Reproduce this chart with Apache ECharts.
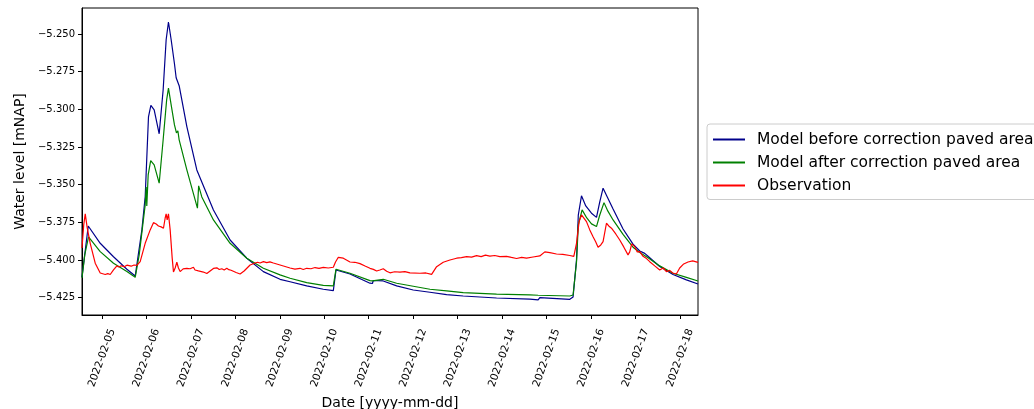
<!DOCTYPE html>
<html>
<head>
<meta charset="utf-8">
<script src="https://cdn.jsdelivr.net/npm/echarts@6/dist/echarts.min.js"></script>
<style>
html,body{margin:0;padding:0;background:#fff;}
#chart{width:1034px;height:409px;}
</style>
</head>
<body>
<div id="chart"></div>
<script>
// ---- tick labels ----
const dayTicks = ['2022-02-05','2022-02-06','2022-02-07','2022-02-08','2022-02-09','2022-02-10','2022-02-11',
  '2022-02-12','2022-02-13','2022-02-14','2022-02-15','2022-02-16','2022-02-17','2022-02-18'];
const yTicks = [-5.425, -5.400, -5.375, -5.350, -5.325, -5.300, -5.275, -5.250];
const xRange = ['2022-02-04 13:15', '2022-02-18 09:42'];
const yRange = [-5.4365, -5.2327];

// ---- series names ----
const seriesNames = ['Model before correction paved area', 'Model after correction paved area', 'Observation'];

// ---- Model before correction paved area ----
const beforeData = [
 ['2022-02-04 13:15',-5.4113],['2022-02-04 16:37',-5.3774],['2022-02-04 23:05',-5.3889],['2022-02-05 06:15',-5.3978],
 ['2022-02-05 13:29',-5.4061],['2022-02-05 17:58',-5.4106],['2022-02-05 21:34',-5.3800],['2022-02-05 23:21',-5.3581],
 ['2022-02-06 01:08',-5.3049],['2022-02-06 02:25',-5.2974],['2022-02-06 04:12',-5.3003],['2022-02-06 06:54',-5.3162],
 ['2022-02-06 09:03',-5.2870],['2022-02-06 10:40',-5.2538],['2022-02-06 11:55',-5.2420],['2022-02-06 13:22',-5.2538],
 ['2022-02-06 15:09',-5.2697],['2022-02-06 16:04',-5.2790],['2022-02-06 16:59',-5.2784],['2022-02-06 17:41',-5.2843],
 ['2022-02-06 21:50',-5.3114],['2022-02-07 03:13',-5.3402],['2022-02-07 12:11',-5.3668],['2022-02-07 21:11',-5.3867],
 ['2022-02-08 06:11',-5.3988],['2022-02-08 15:08',-5.4077],['2022-02-09 00:08',-5.4128],['2022-02-09 05:32',-5.4144],
 ['2022-02-09 14:32',-5.4172],['2022-02-09 23:29',-5.4194],['2022-02-10 04:53',-5.4203],['2022-02-10 05:32',-5.4192],
 ['2022-02-10 06:20',-5.4066],['2022-02-10 13:53',-5.4093],['2022-02-11 00:40',-5.4154],['2022-02-11 02:00',-5.4156],
 ['2022-02-11 02:27',-5.4136],['2022-02-11 07:50',-5.4139],['2022-02-11 15:04',-5.4172],['2022-02-12 00:01',-5.4199],
 ['2022-02-12 09:01',-5.4214],['2022-02-12 18:02',-5.4230],['2022-02-13 02:59',-5.4239],['2022-02-13 20:59',-5.4252],
 ['2022-02-14 14:56',-5.4259],['2022-02-14 19:25',-5.4265],['2022-02-14 20:20',-5.4250],['2022-02-15 12:31',-5.4261],
 ['2022-02-15 14:17',-5.4245],['2022-02-15 16:08',-5.3999],['2022-02-15 17:06',-5.3701],['2022-02-15 18:49',-5.3574],
 ['2022-02-15 21:08',-5.3641],['2022-02-16 00:13',-5.3689],['2022-02-16 02:55',-5.3717],['2022-02-16 04:41',-5.3614],
 ['2022-02-16 06:28',-5.3523],['2022-02-16 09:00',-5.3588],['2022-02-16 11:52',-5.3661],['2022-02-16 17:15',-5.3794],
 ['2022-02-16 22:38',-5.3895],['2022-02-17 02:16',-5.3940],['2022-02-17 04:57',-5.3956],['2022-02-17 06:34',-5.3973],
 ['2022-02-17 13:02',-5.4043],['2022-02-17 20:13',-5.4096],['2022-02-18 03:26',-5.4132],['2022-02-18 09:42',-5.4159]
];

// ---- Model after correction paved area ----
const afterData = [
 ['2022-02-04 13:15',-5.4119],['2022-02-04 14:44',-5.3966],['2022-02-04 16:46',-5.3847],['2022-02-04 23:05',-5.3944],
 ['2022-02-05 06:15',-5.4021],['2022-02-05 13:29',-5.4077],['2022-02-05 17:58',-5.4115],['2022-02-05 20:07',-5.3966],
 ['2022-02-05 21:44',-5.3800],['2022-02-05 23:21',-5.3634],['2022-02-05 23:53',-5.3515],['2022-02-06 00:13',-5.3641],
 ['2022-02-06 00:58',-5.3435],['2022-02-06 02:19',-5.3340],['2022-02-06 04:12',-5.3368],['2022-02-06 06:54',-5.3490],
 ['2022-02-06 09:03',-5.3202],['2022-02-06 10:56',-5.2937],['2022-02-06 11:55',-5.2859],['2022-02-06 13:22',-5.2970],
 ['2022-02-06 15:09',-5.3103],['2022-02-06 16:14',-5.3156],['2022-02-06 16:59',-5.3142],['2022-02-06 17:41',-5.3202],
 ['2022-02-06 21:50',-5.3402],['2022-02-07 03:33',-5.3656],['2022-02-07 04:12',-5.3508],['2022-02-07 05:55',-5.3581],
 ['2022-02-07 12:11',-5.3734],['2022-02-07 21:11',-5.3889],['2022-02-08 06:11',-5.3988],['2022-02-08 15:08',-5.4055],
 ['2022-02-09 00:08',-5.4099],['2022-02-09 05:32',-5.4121],['2022-02-09 14:32',-5.4150],['2022-02-09 23:29',-5.4168],
 ['2022-02-10 04:53',-5.4172],['2022-02-10 05:32',-5.4162],['2022-02-10 06:20',-5.4061],['2022-02-10 13:53',-5.4088],
 ['2022-02-11 00:40',-5.4137],['2022-02-11 02:00',-5.4139],['2022-02-11 02:27',-5.4126],['2022-02-11 07:50',-5.4128],
 ['2022-02-11 15:04',-5.4154],['2022-02-12 00:01',-5.4174],['2022-02-12 09:01',-5.4194],['2022-02-12 18:02',-5.4205],
 ['2022-02-13 02:59',-5.4217],['2022-02-13 20:59',-5.4227],['2022-02-14 14:56',-5.4232],['2022-02-14 19:25',-5.4234],
 ['2022-02-14 20:20',-5.4221],['2022-02-15 12:31',-5.4239],['2022-02-15 14:17',-5.4232],['2022-02-15 16:08',-5.4013],
 ['2022-02-15 17:06',-5.3767],['2022-02-15 19:09',-5.3667],['2022-02-15 21:41',-5.3721],['2022-02-16 00:13',-5.3760],
 ['2022-02-16 02:55',-5.3778],['2022-02-16 04:41',-5.3701],['2022-02-16 06:58',-5.3619],['2022-02-16 09:00',-5.3674],
 ['2022-02-16 11:52',-5.3734],['2022-02-16 17:15',-5.3830],['2022-02-16 22:38',-5.3915],['2022-02-17 02:16',-5.3950],
 ['2022-02-17 06:34',-5.3983],['2022-02-17 13:02',-5.4039],['2022-02-17 20:13',-5.4088],['2022-02-18 03:26',-5.4115],
 ['2022-02-18 09:42',-5.4139]
];

// ---- Observation ----
const observationData = [
 ['2022-02-04 13:15',-5.3920],['2022-02-04 14:11',-5.3767],['2022-02-04 15:00',-5.3694],['2022-02-04 16:04',-5.3787],
 ['2022-02-04 17:41',-5.3889],['2022-02-04 20:23',-5.4021],['2022-02-04 23:05',-5.4086],['2022-02-05 01:47',-5.4096],
 ['2022-02-05 03:10',-5.4090],['2022-02-05 04:29',-5.4096],['2022-02-05 06:15',-5.4066],['2022-02-05 08:05',-5.4039],
 ['2022-02-05 09:10',-5.4046],['2022-02-05 10:25',-5.4038],['2022-02-05 12:00',-5.4045],['2022-02-05 13:29',-5.4034],
 ['2022-02-05 15:48',-5.4041],['2022-02-05 17:20',-5.4033],['2022-02-05 18:52',-5.4036],['2022-02-05 20:39',-5.4011],
 ['2022-02-05 23:21',-5.3889],['2022-02-06 02:03',-5.3800],['2022-02-06 03:49',-5.3752],['2022-02-06 05:17',-5.3761],
 ['2022-02-06 06:31',-5.3774],['2022-02-06 07:59',-5.3780],['2022-02-06 09:13',-5.3789],['2022-02-06 10:08',-5.3721],
 ['2022-02-06 10:40',-5.3694],['2022-02-06 11:13',-5.3734],['2022-02-06 11:55',-5.3694],['2022-02-06 12:50',-5.3800],
 ['2022-02-06 13:55',-5.3986],['2022-02-06 14:37',-5.4079],['2022-02-06 15:31',-5.4053],['2022-02-06 16:26',-5.4015],
 ['2022-02-06 17:18',-5.4053],['2022-02-06 18:13',-5.4077],['2022-02-06 19:00',-5.4068],['2022-02-06 19:50',-5.4059],
 ['2022-02-06 20:50',-5.4070],['2022-02-06 21:50',-5.4055],['2022-02-06 22:45',-5.4066],['2022-02-06 23:37',-5.4058],
 ['2022-02-07 00:30',-5.4070],['2022-02-07 01:23',-5.4048],['2022-02-07 02:15',-5.4066],['2022-02-07 03:13',-5.4057],
 ['2022-02-07 04:05',-5.4072],['2022-02-07 05:00',-5.4066],['2022-02-07 06:47',-5.4080],['2022-02-07 07:40',-5.4072],
 ['2022-02-07 08:37',-5.4090],['2022-02-07 10:24',-5.4073],['2022-02-07 11:20',-5.4062],['2022-02-07 12:11',-5.4056],
 ['2022-02-07 13:05',-5.4064],['2022-02-07 14:01',-5.4052],['2022-02-07 15:20',-5.4063],['2022-02-07 16:42',-5.4058],
 ['2022-02-07 18:00',-5.4066],['2022-02-07 19:24',-5.4055],['2022-02-07 20:30',-5.4064],['2022-02-07 21:43',-5.4068],
 ['2022-02-08 00:25',-5.4083],['2022-02-08 02:34',-5.4093],['2022-02-08 04:44',-5.4073],['2022-02-08 07:58',-5.4033],
 ['2022-02-08 10:40',-5.4020],['2022-02-08 12:00',-5.4015],['2022-02-08 13:22',-5.4020],['2022-02-08 15:10',-5.4011],
 ['2022-02-08 16:58',-5.4017],['2022-02-08 18:40',-5.4012],['2022-02-08 20:32',-5.4020],['2022-02-09 00:08',-5.4033],
 ['2022-02-09 05:32',-5.4053],['2022-02-09 08:10',-5.4060],['2022-02-09 10:56',-5.4055],['2022-02-09 12:40',-5.4063],
 ['2022-02-09 14:32',-5.4055],['2022-02-09 16:50',-5.4058],['2022-02-09 19:01',-5.4050],['2022-02-09 21:10',-5.4056],
 ['2022-02-09 23:29',-5.4049],['2022-02-10 02:10',-5.4053],['2022-02-10 04:53',-5.4048],['2022-02-10 06:04',-5.4013],
 ['2022-02-10 07:35',-5.3982],['2022-02-10 10:17',-5.3988],['2022-02-10 13:53',-5.4013],['2022-02-10 16:30',-5.4015],
 ['2022-02-10 19:17',-5.4024],['2022-02-10 22:00',-5.4040],['2022-02-11 00:40',-5.4055],['2022-02-11 02:30',-5.4062],
 ['2022-02-11 04:17',-5.4073],['2022-02-11 06:00',-5.4066],['2022-02-11 07:50',-5.4058],['2022-02-11 09:40',-5.4075],
 ['2022-02-11 11:27',-5.4085],['2022-02-11 14:00',-5.4078],['2022-02-11 16:51',-5.4081],['2022-02-11 19:30',-5.4077],
 ['2022-02-11 22:14',-5.4085],['2022-02-12 03:38',-5.4088],['2022-02-12 06:50',-5.4086],['2022-02-12 09:56',-5.4095],
 ['2022-02-12 12:38',-5.4044],['2022-02-12 16:12',-5.4015],['2022-02-12 19:49',-5.4000],['2022-02-12 23:25',-5.3988],
 ['2022-02-13 02:00',-5.3984],['2022-02-13 04:49',-5.3978],['2022-02-13 07:30',-5.3981],['2022-02-13 10:12',-5.3971],
 ['2022-02-13 12:40',-5.3977],['2022-02-13 15:00',-5.3968],['2022-02-13 17:23',-5.3974],['2022-02-13 20:00',-5.3970],
 ['2022-02-13 22:46',-5.3977],['2022-02-14 02:23',-5.3976],['2022-02-14 05:00',-5.3983],['2022-02-14 07:46',-5.3990],
 ['2022-02-14 10:30',-5.3982],['2022-02-14 13:10',-5.3987],['2022-02-14 16:40',-5.3980],['2022-02-14 20:20',-5.3973],
 ['2022-02-14 23:02',-5.3946],['2022-02-15 01:44',-5.3951],['2022-02-15 05:20',-5.3960],['2022-02-15 08:44',-5.3963],
 ['2022-02-15 12:31',-5.3970],['2022-02-15 14:40',-5.3976],['2022-02-15 16:08',-5.3889],['2022-02-15 17:32',-5.3745],
 ['2022-02-15 18:49',-5.3701],['2022-02-15 21:31',-5.3745],['2022-02-15 23:18',-5.3800],['2022-02-16 01:04',-5.3845],
 ['2022-02-16 02:32',-5.3880],['2022-02-16 03:46',-5.3915],['2022-02-16 05:14',-5.3900],['2022-02-16 06:28',-5.3878],
 ['2022-02-16 08:18',-5.3756],['2022-02-16 09:32',-5.3774],['2022-02-16 11:00',-5.3789],['2022-02-16 13:19',-5.3827],
 ['2022-02-16 15:28',-5.3867],['2022-02-16 17:37',-5.3913],['2022-02-16 19:56',-5.3966],['2022-02-16 20:51',-5.3946],
 ['2022-02-16 21:56',-5.3893],['2022-02-16 23:33',-5.3911],['2022-02-17 00:54',-5.3946],['2022-02-17 02:16',-5.3944],
 ['2022-02-17 03:52',-5.3973],['2022-02-17 05:29',-5.3986],['2022-02-17 07:39',-5.4011],['2022-02-17 10:21',-5.4039],
 ['2022-02-17 13:02',-5.4066],['2022-02-17 14:56',-5.4053],['2022-02-17 16:39',-5.4077],['2022-02-17 18:26',-5.4069],
 ['2022-02-17 20:03',-5.4086],['2022-02-17 22:02',-5.4093],['2022-02-17 23:49',-5.4053],['2022-02-18 01:59',-5.4026],
 ['2022-02-18 04:18',-5.4013],['2022-02-18 06:50',-5.4006],['2022-02-18 09:42',-5.4016]
];

const FONT = 'DejaVu Sans';
const toMs = s => echarts.time.parse(s).getTime();
const pad = n => (n < 10 ? '0' : '') + n;
const tickTimes = dayTicks.map(toMs);
const conv = arr => arr.map(p => [toMs(p[0]), p[1]]);

const chart = echarts.init(document.getElementById('chart'), null, {renderer: 'canvas'});
chart.setOption({
  backgroundColor: '#ffffff',
  animation: false,
  grid: {left: 82, right: 336, top: 8, bottom: 94, show: true, borderColor: '#000', borderWidth: 1,
         backgroundColor: 'transparent', outerBoundsMode: 'none', containLabel: false},
  legend: {
    orient: 'vertical', left: 707, top: 124,
    data: seriesNames,
    itemWidth: 32, itemHeight: 14, itemGap: 5,
    padding: [6.5, 8, 5, 5],
    itemStyle: {opacity: 0},
    backgroundColor: 'rgba(255,255,255,0.8)',
    borderColor: '#cccccc', borderWidth: 1, borderRadius: 3,
    textStyle: {fontFamily: FONT, fontSize: 15.5, color: '#000', lineHeight: 18, padding: [0, 0, 0, 7]}
  },
  xAxis: {
    type: 'value',
    min: toMs(xRange[0]), max: toMs(xRange[1]),
    axisLine: {show: true, onZero: false, lineStyle: {color: '#000', width: 1}},
    axisTick: {show: true, inside: false, length: 4, lineStyle: {color: '#000'}, customValues: tickTimes},
    splitLine: {show: false},
    axisLabel: {
      customValues: tickTimes, rotate: 70, margin: 43, align: 'center', verticalAlign: 'middle',
      fontFamily: FONT, fontSize: 10.5, color: '#000',
      formatter: function (v) { const d = new Date(v); return d.getFullYear() + '-' + pad(d.getMonth() + 1) + '-' + pad(d.getDate()); }
    },
    name: 'Date [yyyy-mm-dd]', nameLocation: 'middle', nameGap: 77,
    nameTextStyle: {fontFamily: FONT, fontSize: 14, color: '#000'}
  },
  yAxis: {
    type: 'value',
    min: yRange[0], max: yRange[1],
    axisLine: {show: true, onZero: false, lineStyle: {color: '#000', width: 1}},
    axisTick: {show: true, inside: false, length: 4, lineStyle: {color: '#000'}, customValues: yTicks},
    splitLine: {show: false},
    axisLabel: {
      customValues: yTicks, margin: 7, fontFamily: FONT, fontSize: 10, color: '#000',
      formatter: function (v) { return (v < 0 ? '\u2212' : '') + Math.abs(v).toFixed(3); }
    },
    name: 'Water level [mNAP]', nameLocation: 'middle', nameGap: 54,
    nameTextStyle: {fontFamily: FONT, fontSize: 14, color: '#000'}
  },
  series: [
    {name: seriesNames[0], type: 'line', data: conv(beforeData), symbol: 'none', showSymbol: false,
     lineStyle: {color: '#00008b', width: 1.2}, itemStyle: {color: '#00008b'}},
    {name: seriesNames[1], type: 'line', data: conv(afterData), symbol: 'none', showSymbol: false,
     lineStyle: {color: '#008000', width: 1.2}, itemStyle: {color: '#008000'}},
    {name: seriesNames[2], type: 'line', data: conv(observationData), symbol: 'none', showSymbol: false,
     lineStyle: {color: '#ff0000', width: 1.2}, itemStyle: {color: '#ff0000'}}
  ]
});
</script>
</body>
</html>
